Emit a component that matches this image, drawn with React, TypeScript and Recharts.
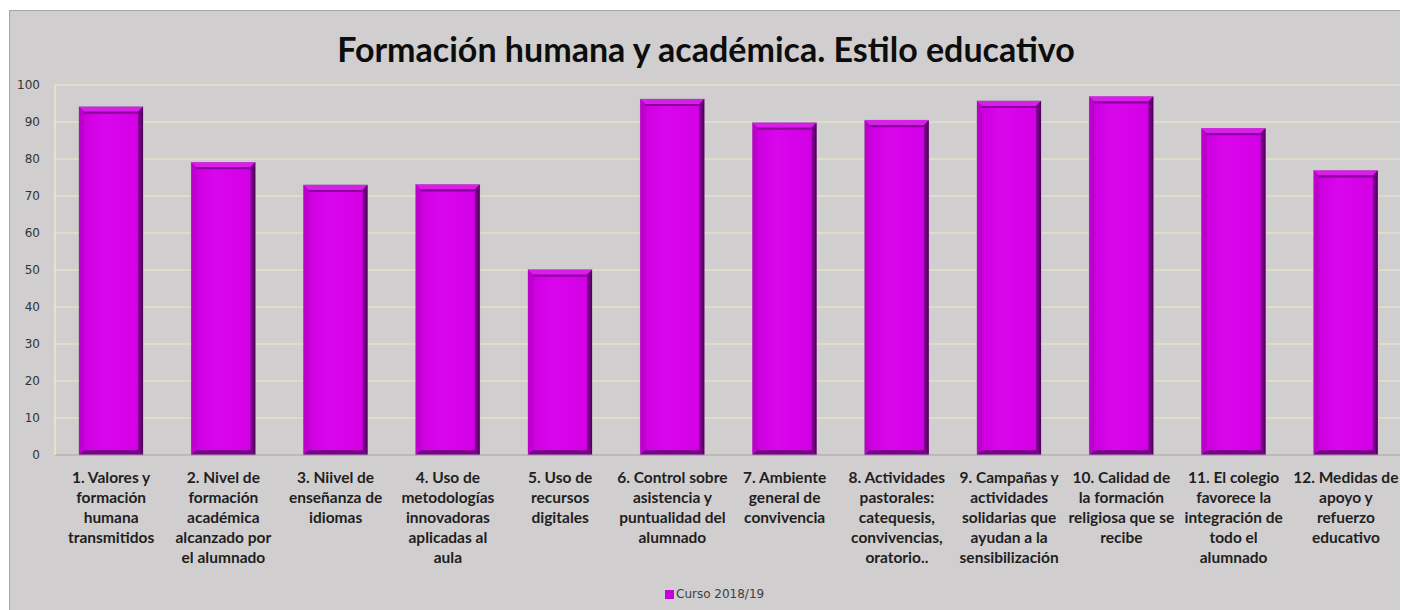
import React from 'react';
import { BarChart, Bar, XAxis, YAxis, CartesianGrid, Legend } from 'recharts';

const title = 'Formación humana y académica. Estilo educativo';
const seriesName = 'Curso 2018/19';

const categories = [
  '1. Valores y\nformación\nhumana\ntransmitidos',
  '2. Nivel de\nformación\nacadémica\nalcanzado por\nel alumnado',
  '3. Niivel de\nenseñanza de\nidiomas',
  '4. Uso de\nmetodologías\ninnovadoras\naplicadas al\naula',
  '5. Uso de\nrecursos\ndigitales',
  '6. Control sobre\nasistencia y\npuntualidad del\nalumnado',
  '7. Ambiente\ngeneral de\nconvivencia',
  '8. Actividades\npastorales:\ncatequesis,\nconvivencias,\noratorio..',
  '9. Campañas y\nactividades\nsolidarias que\nayudan a la\nsensibilización',
  '10. Calidad de\nla formación\nreligiosa que se\nrecibe',
  '11. El colegio\nfavorece la\nintegración de\ntodo el\nalumnado',
  '12. Medidas de\napoyo y\nrefuerzo\neducativo',
];

const values = [94.1, 79.1, 73.0, 73.1, 50.1, 96.2, 89.8, 90.5, 95.7, 96.9, 88.3, 76.9];

const yTicks = [0, 10, 20, 30, 40, 50, 60, 70, 80, 90, 100];

const data = categories.map((name, i) => ({ name, value: values[i] }));

const CREAM = '#EFE7C6';

// bevelled bar like the Excel picture
const BevelBar = (props: any) => {
  const { x, y, width, height } = props;
  if (!height || height <= 0) return null;
  const b = 5;
  return (
    <g>
      <rect x={x} y={y} width={width} height={height} fill="#b300c4" stroke="#9c8aa0" strokeWidth={0.6} />
      <polygon points={`${x},${y} ${x + width},${y} ${x + width - b},${y + b} ${x + b},${y + b}`} fill="#d81ee9" />
      <polygon points={`${x},${y} ${x + b},${y + b} ${x + b},${y + height - b} ${x},${y + height}`} fill="#bd00ce" />
      <polygon points={`${x + width},${y} ${x + width},${y + height} ${x + width - b},${y + height - b} ${x + width - b},${y + b}`} fill="url(#rightEdge)" />
      <polygon points={`${x},${y + height} ${x + b},${y + height - b} ${x + width - b},${y + height - b} ${x + width},${y + height}`} fill="#7d008c" />
      <rect x={x + b} y={y + b} width={width - 2 * b} height={height - 2 * b} fill="url(#barFace)" />
      <line x1={x + b} y1={y + b + 1} x2={x + width - b} y2={y + b + 1} stroke="#8a009c" strokeWidth={2} />
    </g>
  );
};

const CategoryTick = (props: any) => {
  const { x, y, payload } = props;
  const lines = String(payload.value).split('\n');
  return (
    <text
      x={x}
      y={y + 28}
      textAnchor="middle"
      fill="#1f1f1f"
      fontFamily="Lato, sans-serif"
      fontWeight={700}
      fontSize={15.5}
    >
      {lines.map((l, i) => (
        <tspan key={i} x={x} dy={i === 0 ? 0 : 20}>{l}</tspan>
      ))}
    </text>
  );
};

export default function App() {
  return (
    <div
      style={{
        position: 'relative',
        marginLeft: 1,
        marginTop: 2,
        width: 1398,
        height: 600,
        background: '#d0cece',
        border: '1px solid #a6a6a6',
      }}
    >
      <div
        style={{
          position: 'absolute',
          top: 19,
          left: 0,
          width: 1392,
          textAlign: 'center',
          fontFamily: 'Lato, sans-serif',
          fontWeight: 700,
          fontSize: 34,
          lineHeight: '38px',
          color: '#0d0d0d',
        }}
      >
        {title}
      </div>
      <BarChart
        width={1398}
        height={600}
        data={data}
        margin={{ top: 74, right: 6, bottom: 10, left: 0 }}
        style={{ position: 'absolute', top: 0, left: 0 }}
      >
        <defs>
          <linearGradient id="barFace" x1="0" y1="0" x2="1" y2="0">
            <stop offset="0%" stopColor="#cc00df" />
            <stop offset="35%" stopColor="#da06ec" />
            <stop offset="100%" stopColor="#d300e5" />
          </linearGradient>
          <linearGradient id="rightEdge" x1="0" y1="0" x2="1" y2="0">
            <stop offset="0%" stopColor="#8a009c" />
            <stop offset="100%" stopColor="#4d0058" />
          </linearGradient>
        </defs>
        <CartesianGrid vertical={false} stroke={CREAM} strokeWidth={1.2} yAxisId="left" />
        <XAxis
          dataKey="name"
          interval={0}
          tickLine={false}
          tickSize={0}
          tickMargin={0}
          height={126}
          axisLine={{ stroke: '#999999', strokeWidth: 1.2 }}
          tick={<CategoryTick />}
        />
        <YAxis
          yAxisId="left"
          domain={[0, 100]}
          ticks={yTicks}
          width={45}
          tickLine={false}
          axisLine={{ stroke: CREAM, strokeWidth: 1.5 }}
          tick={{ fill: '#333333', fontSize: 12, fontFamily: 'DejaVu Sans, sans-serif' }}
          tickMargin={9}
        />
        <YAxis
          yAxisId="right"
          orientation="right"
          domain={[0, 100]}
          width={0}
          tick={false}
          tickLine={false}
          axisLine={{ stroke: CREAM, strokeWidth: 1.5 }}
        />
        <Legend
          verticalAlign="bottom"
          iconType="square"
          iconSize={9}
          wrapperStyle={{ left: 655, bottom: 7, width: 'auto', height: 20, lineHeight: '20px', fontFamily: 'DejaVu Sans, sans-serif', fontSize: 12 }}
          formatter={(v: string) => <span style={{ color: '#404040', marginLeft: -2 }}>{v}</span>}
        />
        <Bar
          yAxisId="left"
          dataKey="value"
          name={seriesName}
          fill="#c800da"
          barSize={64}
          shape={<BevelBar />}
          isAnimationActive={false}
        />
      </BarChart>
    </div>
  );
}
